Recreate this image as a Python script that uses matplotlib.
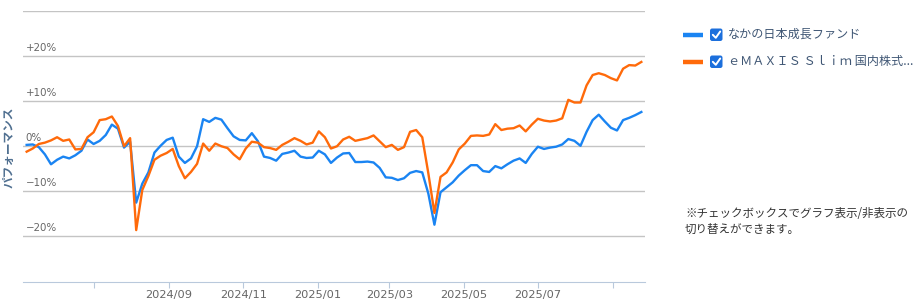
import matplotlib
matplotlib.use("Agg")
import matplotlib.pyplot as plt
from matplotlib.patches import FancyBboxPatch
import pandas as pd

plt.rcParams['font.family'] = ['Noto Sans CJK JP', 'DejaVu Sans']

# 5日ごとの読み取り値 (%)
nakano = [0.3, 0.4, -0.2, -1.8, -4.0, -3.0, -2.3, -2.7, -2.0, -1.0,
          1.5, 0.5, 1.2, 2.5, 4.8, 3.9, -0.3, 1.0, -12.5, -8.3,
          -5.8, -1.4, 0.1, 1.4, 1.9, -2.3, -3.7, -2.7, 0.0, 6.0,
          5.4, 6.3, 5.9, 4.0, 2.2, 1.4, 1.3, 2.9, 1.1, -2.3,
          -2.6, -3.2, -1.7, -1.4, -1.0, -2.3, -2.6, -2.5, -1.0, -1.8,
          -3.7, -2.5, -1.6, -1.5, -3.5, -3.5, -3.4, -3.6, -4.8, -6.9,
          -7.0, -7.5, -7.1, -5.9, -5.5, -5.8, -10.5, -17.4, -10.2, -9.1,
          -8.0, -6.5, -5.3, -4.2, -4.2, -5.5, -5.7, -4.4, -4.9, -4.0,
          -3.2, -2.7, -3.7, -1.7, -0.1, -0.6, -0.3, -0.1, 0.4, 1.6,
          1.2, 0.1, 3.2, 5.8, 7.0, 5.5, 4.1, 3.5, 5.8, 6.3,
          6.9, 7.6]
emaxis = [-1.2, -0.5, 0.5, 0.8, 1.3, 2.0, 1.2, 1.5, -0.7, -0.6,
          2.0, 3.1, 5.8, 6.0, 6.6, 4.5, 0.0, 1.8, -18.6, -9.7,
          -6.6, -3.0, -2.1, -1.5, -0.6, -4.4, -7.1, -5.7, -3.9, 0.6,
          -1.0, 0.6, 0.0, -0.4, -1.8, -2.9, -0.5, 1.0, 0.8, -0.2,
          -0.4, -0.8, 0.3, 1.0, 1.8, 1.2, 0.4, 0.8, 3.3, 2.0,
          -0.5, 0.0, 1.5, 2.1, 1.2, 1.5, 1.8, 2.4, 1.1, -0.2,
          0.3, -0.8, -0.2, 3.2, 3.6, 2.0, -6.0, -14.8, -6.8, -5.8,
          -3.6, -0.7, 0.6, 2.3, 2.4, 2.3, 2.6, 4.9, 3.6, 3.9,
          4.0, 4.6, 3.3, 4.8, 6.1, 5.7, 5.5, 5.7, 6.2, 10.3,
          9.7, 9.7, 13.5, 15.8, 16.2, 15.8, 15.1, 14.6, 17.2, 18.0,
          17.9, 18.7]
dates = pd.date_range("2024-05-07", periods=len(nakano), freq="5D")

series_names = ["なかの日本成長ファンド", "ｅＭＡＸＩＳ Ｓｌｉｍ 国内株式..."]
series_colors = ["#1a84f2", "#ff6a0a"]

y_ticks = [-20, -10, 0, 10, 20]
y_labels = ["\u221220%", "\u221210%", "0%", "+10%", "+20%"]
x_ticks = pd.to_datetime(["2024-07-01", "2024-09-01", "2024-11-01", "2025-01-01",
                          "2025-03-01", "2025-05-01", "2025-07-01", "2025-09-01"])
x_labels = ["", "2024/09", "2024/11", "2025/01", "2025/03", "2025/05", "2025/07", ""]

W, H = 918, 305
fig = plt.figure(figsize=(W / 100, H / 100), dpi=100)
ax = fig.add_axes([23 / W, 1 - 281.5 / H, 622 / W, 270.5 / H])

ax.set_ylim(-30, 30)
ax.set_xlim(pd.Timestamp("2024-05-04"), pd.Timestamp("2025-09-27"))

# グリッド
ax.set_yticks(y_ticks + [30])
ax.yaxis.grid(True, color="#c4c4c4", linewidth=1)
ax.tick_params(axis="y", length=0, labelleft=False)
for v, lab in zip(y_ticks, y_labels):
    ax.text(0.004, v + 0.7, lab, transform=ax.get_yaxis_transform(),
            fontsize=7.4, color="#666666", family="DejaVu Sans",
            va="bottom", ha="left", zorder=1)

for s in ["top", "left", "right"]:
    ax.spines[s].set_visible(False)
ax.spines["bottom"].set_color("#b9c9dc")

ax.set_xticks(x_ticks)
ax.set_xticklabels(x_labels, family="DejaVu Sans")
ax.tick_params(axis="x", direction="out", length=4, color="#b9c9dc",
               labelcolor="#666666", labelsize=8.2, pad=2)

for vals, col in zip([nakano, emaxis], series_colors):
    ax.plot(dates, vals, color=col, linewidth=1.7, solid_joinstyle="round", zorder=3)

fig.text(9 / W, 1 - 147 / H, "パフォーマンス", rotation=90, ha="center", va="center",
         fontsize=8.4, fontweight="bold", color="#4f6f90")

# 凡例 (チェックボックス付き)
ov = fig.add_axes([0, 0, 1, 1])
ov.set_xlim(0, W)
ov.set_ylim(H, 0)
ov.axis("off")
ov.patch.set_visible(False)
for k, (name, col) in enumerate(zip(series_names, series_colors)):
    yy = 34.5 + 27 * k
    ov.plot([683, 703], [yy, yy], color=col, linewidth=3.2, solid_capstyle="butt")
    ov.add_patch(FancyBboxPatch((710, yy - 6), 12.5, 12.5,
                                boxstyle="round,pad=0,rounding_size=2.2",
                                fc="#1c6fdc", ec="none"))
    ov.plot([712.8, 715.8, 720.2], [yy + 0.3, yy + 3.3, yy - 3], color="white",
            linewidth=1.4, solid_capstyle="round", solid_joinstyle="round")
    ov.text(727.5, yy, name, fontsize=8.7, color="#3f5674", va="center", ha="left")

ov.text(685, 213.5, "※チェックボックスでグラフ表示/非表示の", fontsize=8.3,
        color="#333333", va="center", ha="left")
ov.text(685, 229.5, "切り替えができます。", fontsize=8.3,
        color="#333333", va="center", ha="left")

fig.savefig("out.png", dpi=100)
